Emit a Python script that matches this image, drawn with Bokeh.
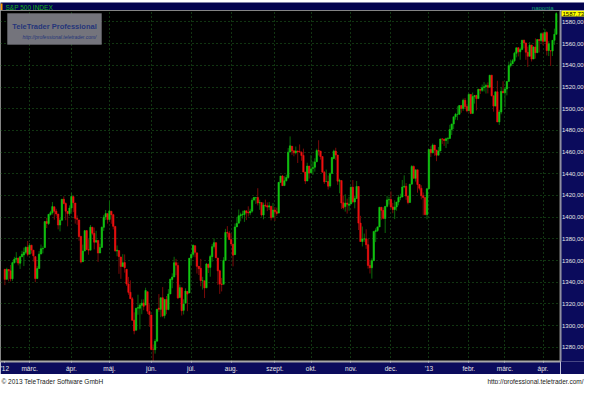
from bokeh.plotting import figure
from bokeh.layouts import column, row
from bokeh.models import FixedTicker, Label, BoxAnnotation, ColumnDataSource, Range1d, Span
from bokeh.embed import file_html
from bokeh.resources import INLINE

# ---------------- data (S&P 500 daily, 10 Feb 2012 .. 10 Apr 2013) ----------------
opens = [1351.95, 1342.64, 1351.77, 1350.50, 1343.23, 1358.04, 1361.22, 1362.21, 1357.53, 1363.46,
         1365.20, 1367.56, 1372.20, 1365.90, 1374.09, 1369.59, 1363.63, 1343.39, 1352.65, 1365.97,
         1370.78, 1371.92, 1395.95, 1394.17, 1402.55, 1404.17, 1409.59, 1405.52, 1402.89, 1392.78,
         1397.11, 1416.55, 1412.52, 1405.39, 1403.31, 1408.47, 1418.98, 1413.09, 1398.79, 1397.45,
         1382.18, 1358.98, 1368.77, 1387.61, 1370.27, 1369.57, 1390.78, 1385.08, 1376.96, 1378.53,
         1366.97, 1372.11, 1390.64, 1400.19, 1403.26, 1397.86, 1405.50, 1402.32, 1391.51, 1368.79,
         1369.16, 1363.20, 1354.58, 1358.11, 1351.93, 1338.36, 1330.78, 1324.82, 1305.05, 1295.73,
         1316.09, 1316.02, 1318.72, 1320.81, 1318.90, 1331.25, 1313.09, 1309.87, 1278.29, 1277.82,
         1285.61, 1316.15, 1314.99, 1325.72, 1309.40, 1324.02, 1314.88, 1329.19, 1342.42, 1344.83,
         1357.98, 1355.43, 1325.92, 1334.90, 1314.09, 1320.71, 1331.52, 1330.12, 1362.33, 1365.75,
         1373.72, 1367.09, 1354.66, 1352.96, 1341.40, 1341.29, 1334.81, 1356.50, 1353.68, 1363.58,
         1373.01, 1376.51, 1362.34, 1350.52, 1338.35, 1338.17, 1360.05, 1385.94, 1385.27, 1379.32,
         1375.13, 1365.45, 1391.04, 1394.46, 1401.23, 1402.26, 1402.58, 1405.87, 1404.36, 1403.89,
         1405.57, 1415.84, 1417.85, 1418.13, 1413.09, 1413.49, 1401.99, 1411.13, 1410.44, 1409.32,
         1410.08, 1400.07, 1406.54, 1404.94, 1403.74, 1432.12, 1437.92, 1429.13, 1433.56, 1436.56,
         1460.07, 1465.42, 1461.19, 1459.50, 1461.05, 1460.34, 1459.76, 1456.94, 1441.60, 1433.36,
         1447.13, 1440.90, 1444.99, 1446.05, 1451.08, 1461.40, 1460.93, 1455.90, 1441.48, 1432.82,
         1432.84, 1428.75, 1440.31, 1454.22, 1460.94, 1457.34, 1433.21, 1433.74, 1413.20, 1409.74,
         1412.97, 1410.99, 1412.20, 1427.59, 1414.02, 1417.26, 1428.27, 1394.53, 1377.55, 1379.86,
         1380.03, 1374.64, 1355.41, 1353.36, 1359.88, 1386.82, 1387.79, 1391.03, 1409.15, 1406.29,
         1398.77, 1409.96, 1415.95, 1416.34, 1409.46, 1407.05, 1409.43, 1413.95, 1418.07, 1418.55,
         1427.84, 1428.48, 1419.45, 1413.54, 1430.47, 1446.79, 1435.81, 1443.67, 1430.15, 1426.66,
         1419.83, 1418.10, 1402.43, 1426.19, 1462.42, 1459.37, 1466.47, 1461.89, 1457.15, 1461.02,
         1472.12, 1472.05, 1470.67, 1472.33, 1472.63, 1480.95, 1485.98, 1492.56, 1494.81, 1494.82,
         1502.96, 1500.18, 1507.84, 1501.96, 1498.11, 1513.17, 1495.71, 1511.29, 1512.12, 1509.39,
         1517.93, 1517.01, 1519.43, 1520.33, 1521.38, 1519.79, 1530.94, 1511.95, 1502.42, 1515.60,
         1487.85, 1496.94, 1515.99, 1514.68, 1518.20, 1525.20, 1539.79, 1541.46, 1544.26, 1551.15,
         1556.22, 1552.48, 1554.52, 1563.21, 1560.70, 1552.10, 1548.34, 1558.71, 1545.90, 1556.89,
         1551.69, 1563.75, 1562.86, 1569.18, 1562.17, 1570.25, 1553.69, 1553.47, 1553.26, 1563.11,
         1568.61]
highs = [1352.00, 1353.35, 1351.77, 1355.87, 1359.02, 1363.40, 1367.76, 1362.70, 1364.24, 1368.92,
         1371.94, 1373.09, 1378.04, 1376.17, 1374.53, 1369.59, 1363.63, 1354.85, 1368.72, 1374.76,
         1373.04, 1396.13, 1399.42, 1402.63, 1405.88, 1414.00, 1409.59, 1407.75, 1402.89, 1399.18,
         1416.58, 1419.15, 1413.65, 1405.39, 1410.89, 1422.38, 1419.00, 1413.09, 1401.60, 1397.45,
         1383.01, 1374.71, 1388.13, 1387.61, 1379.66, 1392.76, 1390.78, 1390.46, 1387.40, 1378.53,
         1375.57, 1391.37, 1402.09, 1406.64, 1403.26, 1415.32, 1405.50, 1403.07, 1391.51, 1373.91,
         1369.16, 1363.73, 1365.88, 1365.66, 1351.93, 1344.94, 1341.78, 1326.36, 1312.24, 1316.39,
         1328.49, 1320.71, 1324.14, 1324.20, 1334.93, 1331.25, 1319.74, 1309.87, 1282.55, 1287.62,
         1315.13, 1329.05, 1325.81, 1335.52, 1324.31, 1327.28, 1333.68, 1343.32, 1348.22, 1363.46,
         1361.57, 1358.27, 1337.82, 1334.90, 1324.24, 1334.40, 1331.52, 1362.17, 1366.35, 1374.81,
         1373.85, 1367.09, 1354.87, 1361.54, 1345.00, 1341.29, 1357.70, 1357.26, 1365.36, 1375.26,
         1380.39, 1376.51, 1362.34, 1351.53, 1343.98, 1363.13, 1389.19, 1391.74, 1387.16, 1385.03,
         1375.13, 1394.16, 1399.63, 1407.14, 1404.14, 1405.95, 1405.98, 1405.87, 1410.03, 1407.73,
         1417.44, 1418.71, 1418.13, 1426.68, 1416.12, 1413.49, 1413.46, 1416.17, 1413.63, 1413.95,
         1410.08, 1413.09, 1409.31, 1408.81, 1432.12, 1437.92, 1438.74, 1437.76, 1439.15, 1463.76,
         1474.51, 1465.63, 1461.47, 1465.15, 1461.23, 1467.07, 1460.72, 1463.24, 1441.60, 1450.20,
         1447.13, 1457.14, 1451.52, 1454.30, 1463.14, 1470.96, 1460.93, 1455.90, 1442.52, 1443.90,
         1438.43, 1441.31, 1455.51, 1462.20, 1464.02, 1457.34, 1435.46, 1433.74, 1420.04, 1421.12,
         1417.09, 1418.76, 1428.35, 1434.27, 1419.90, 1433.38, 1428.27, 1401.23, 1391.39, 1384.87,
         1388.81, 1380.13, 1360.62, 1362.03, 1386.89, 1389.77, 1391.25, 1409.16, 1409.15, 1409.01,
         1410.31, 1419.70, 1418.86, 1423.73, 1413.14, 1415.56, 1413.95, 1420.34, 1421.64, 1434.27,
         1438.59, 1431.36, 1419.45, 1430.67, 1448.00, 1447.75, 1443.70, 1443.67, 1430.15, 1429.42,
         1422.80, 1418.10, 1426.74, 1462.43, 1465.47, 1467.94, 1466.47, 1461.89, 1464.73, 1472.30,
         1472.75, 1472.05, 1473.31, 1473.96, 1485.16, 1485.98, 1492.56, 1496.13, 1502.27, 1503.26,
         1503.23, 1509.35, 1509.94, 1504.19, 1514.41, 1513.17, 1514.96, 1512.53, 1512.90, 1518.31,
         1518.31, 1522.29, 1524.69, 1523.14, 1524.24, 1530.94, 1530.94, 1511.95, 1515.64, 1525.84,
         1498.99, 1520.08, 1525.34, 1519.99, 1525.27, 1543.47, 1545.25, 1545.78, 1552.48, 1556.27,
         1556.77, 1556.39, 1563.32, 1563.62, 1560.70, 1557.25, 1561.56, 1558.71, 1557.74, 1564.91,
         1563.95, 1564.07, 1570.28, 1570.57, 1573.66, 1571.47, 1562.29, 1553.47, 1563.07, 1573.89,
         1589.07]
lows = [1337.35, 1342.64, 1340.83, 1340.80, 1341.22, 1357.24, 1358.11, 1355.53, 1352.28, 1363.46,
        1354.92, 1365.97, 1363.81, 1365.90, 1366.42, 1359.13, 1340.03, 1343.39, 1352.65, 1365.97,
        1366.69, 1371.92, 1389.97, 1392.78, 1401.47, 1402.43, 1397.68, 1400.64, 1388.73, 1386.87,
        1397.11, 1411.95, 1397.20, 1391.56, 1401.42, 1404.46, 1404.62, 1394.09, 1392.92, 1378.24,
        1357.38, 1358.98, 1368.77, 1369.85, 1365.38, 1369.57, 1383.29, 1370.30, 1376.96, 1358.79,
        1366.82, 1372.11, 1387.28, 1397.31, 1394.00, 1395.73, 1393.92, 1388.71, 1367.96, 1363.94,
        1347.75, 1343.13, 1354.58, 1348.89, 1336.61, 1328.41, 1324.79, 1304.86, 1291.98, 1295.73,
        1310.04, 1296.53, 1310.50, 1314.23, 1318.90, 1310.76, 1298.90, 1277.25, 1266.74, 1274.16,
        1285.61, 1312.68, 1307.77, 1307.73, 1306.62, 1310.51, 1314.14, 1329.19, 1334.46, 1344.83,
        1346.45, 1324.41, 1325.92, 1309.27, 1310.30, 1320.71, 1313.29, 1330.12, 1355.70, 1363.53,
        1363.02, 1348.03, 1346.65, 1336.27, 1333.25, 1325.41, 1334.81, 1348.51, 1345.07, 1358.96,
        1371.21, 1362.19, 1337.56, 1329.24, 1331.50, 1338.17, 1360.05, 1381.37, 1379.17, 1373.35,
        1354.65, 1365.45, 1391.04, 1394.46, 1396.13, 1398.80, 1395.62, 1397.32, 1400.60, 1401.83,
        1404.15, 1414.67, 1412.12, 1410.86, 1406.78, 1400.50, 1398.04, 1409.11, 1405.59, 1406.57,
        1397.01, 1398.96, 1396.56, 1401.25, 1403.74, 1431.45, 1428.98, 1429.13, 1432.99, 1435.34,
        1460.07, 1457.55, 1456.13, 1457.88, 1449.98, 1459.51, 1452.06, 1441.59, 1430.53, 1433.36,
        1435.60, 1440.90, 1439.01, 1441.99, 1451.08, 1456.89, 1453.10, 1441.18, 1430.64, 1432.82,
        1425.53, 1427.24, 1440.31, 1453.35, 1452.63, 1429.85, 1422.06, 1407.56, 1407.10, 1405.14,
        1403.28, 1405.95, 1412.20, 1412.91, 1408.13, 1417.26, 1388.14, 1377.51, 1373.03, 1377.19,
        1370.78, 1352.50, 1348.05, 1343.35, 1359.88, 1377.04, 1386.39, 1391.03, 1397.68, 1398.03,
        1385.43, 1409.04, 1411.63, 1408.46, 1403.65, 1398.23, 1405.93, 1410.90, 1415.64, 1418.55,
        1426.76, 1416.00, 1411.88, 1413.54, 1430.47, 1435.80, 1432.82, 1422.58, 1424.66, 1416.43,
        1401.80, 1401.58, 1398.11, 1426.19, 1455.53, 1458.99, 1456.62, 1451.64, 1457.15, 1461.02,
        1467.58, 1465.69, 1463.76, 1467.60, 1472.63, 1475.81, 1481.16, 1489.90, 1489.46, 1494.82,
        1496.33, 1498.09, 1500.11, 1496.76, 1498.11, 1495.02, 1495.71, 1504.71, 1498.49, 1509.39,
        1513.61, 1515.61, 1515.93, 1514.02, 1514.14, 1519.79, 1511.41, 1497.29, 1502.42, 1487.85,
        1485.01, 1494.88, 1514.46, 1501.48, 1512.29, 1525.20, 1538.11, 1541.46, 1542.94, 1547.36,
        1548.24, 1545.15, 1554.52, 1555.74, 1545.13, 1538.57, 1548.34, 1543.55, 1545.90, 1546.22,
        1551.69, 1551.90, 1561.08, 1558.47, 1562.17, 1549.07, 1548.59, 1539.50, 1548.63, 1558.96,
        1568.61]
closes = [1342.64, 1351.77, 1350.50, 1343.23, 1358.04, 1361.23, 1362.21, 1357.66, 1363.46, 1365.74,
          1367.59, 1372.18, 1365.68, 1374.09, 1369.63, 1364.33, 1343.36, 1352.63, 1365.91, 1370.87,
          1371.09, 1395.95, 1394.28, 1402.60, 1404.17, 1409.75, 1405.52, 1402.89, 1392.78, 1397.11,
          1416.51, 1412.52, 1405.54, 1403.28, 1408.47, 1419.04, 1413.38, 1398.96, 1398.08, 1382.20,
          1358.59, 1368.71, 1387.57, 1370.26, 1369.57, 1390.78, 1385.14, 1376.92, 1378.53, 1366.94,
          1371.97, 1390.69, 1399.98, 1403.36, 1397.91, 1405.82, 1402.31, 1391.57, 1369.10, 1369.58,
          1363.72, 1354.58, 1357.99, 1353.39, 1338.35, 1330.66, 1324.80, 1304.86, 1295.22, 1315.99,
          1316.63, 1318.86, 1320.68, 1317.82, 1332.42, 1313.32, 1310.33, 1278.04, 1278.18, 1285.50,
          1315.13, 1314.99, 1325.66, 1308.93, 1324.18, 1314.88, 1329.10, 1342.84, 1344.78, 1357.98,
          1355.69, 1325.51, 1335.02, 1313.72, 1319.99, 1331.85, 1329.04, 1362.16, 1365.51, 1374.02,
          1367.58, 1354.68, 1352.46, 1341.47, 1341.45, 1334.76, 1356.78, 1353.64, 1363.67, 1372.78,
          1376.51, 1362.66, 1350.52, 1338.31, 1337.89, 1360.02, 1385.97, 1385.30, 1379.32, 1375.32,
          1365.00, 1390.99, 1394.23, 1401.35, 1402.22, 1402.80, 1405.87, 1404.11, 1403.93, 1405.53,
          1415.51, 1418.16, 1418.13, 1413.17, 1413.49, 1402.08, 1411.13, 1410.44, 1409.30, 1410.49,
          1399.48, 1406.58, 1404.94, 1403.44, 1432.12, 1437.92, 1429.08, 1433.56, 1436.56, 1459.99,
          1465.77, 1461.19, 1459.32, 1461.05, 1460.26, 1460.15, 1456.89, 1441.59, 1433.32, 1447.15,
          1440.67, 1444.49, 1445.75, 1450.99, 1461.40, 1460.93, 1455.88, 1441.48, 1432.56, 1432.84,
          1428.59, 1440.13, 1454.92, 1460.91, 1457.34, 1433.19, 1433.82, 1413.11, 1408.75, 1412.97,
          1411.94, 1412.16, 1427.59, 1414.20, 1417.26, 1428.39, 1394.53, 1377.51, 1379.85, 1380.03,
          1374.53, 1355.49, 1353.33, 1359.88, 1386.89, 1387.81, 1391.03, 1409.15, 1406.29, 1398.94,
          1409.93, 1415.95, 1416.18, 1409.46, 1407.05, 1409.28, 1413.94, 1418.07, 1418.55, 1427.84,
          1428.48, 1419.45, 1413.58, 1430.36, 1446.79, 1435.81, 1443.69, 1430.15, 1426.66, 1419.83,
          1418.10, 1402.43, 1426.19, 1462.42, 1459.37, 1466.47, 1461.89, 1457.15, 1461.02, 1472.12,
          1472.05, 1470.68, 1472.34, 1472.63, 1480.94, 1485.98, 1492.56, 1494.81, 1494.82, 1502.96,
          1500.18, 1507.84, 1501.96, 1498.11, 1513.17, 1495.71, 1511.29, 1512.12, 1509.39, 1517.93,
          1517.01, 1519.43, 1520.33, 1521.38, 1519.79, 1530.94, 1511.95, 1502.42, 1515.60, 1487.85,
          1496.94, 1515.99, 1514.68, 1518.20, 1525.20, 1539.79, 1541.46, 1544.26, 1551.18, 1556.22,
          1552.48, 1554.52, 1563.23, 1560.70, 1552.10, 1548.34, 1558.71, 1545.80, 1556.89, 1551.69,
          1563.77, 1562.85, 1569.19, 1562.17, 1570.25, 1553.69, 1559.98, 1553.28, 1563.07, 1568.61,
          1587.73]

# month starts (trading-day index) and their labels
month_idx = [0, 13, 35, 55, 77, 98, 119, 142, 161, 182, 203, 223, 244, 263, 283]
month_labels = ["'12", "márc.", "ápr.", "máj.", "jún.", "júl.", "aug.", "szept.",
                "okt.", "nov.", "dec.", "'13", "febr.", "márc.", "ápr."]

y_ticks = [1280, 1300, 1320, 1340, 1360, 1380, 1400, 1420, 1440, 1460,
           1480, 1500, 1520, 1540, 1560, 1580]
y_tick_labels = ["1280,00", "1300,00", "1320,00", "1340,00", "1360,00", "1380,00",
                 "1400,00", "1420,00", "1440,00", "1460,00", "1480,00", "1500,00",
                 "1520,00", "1540,00", "1560,00", "1580,00"]

last_price_label = "1587,73"
title_text = "S&P 500 INDEX"
period_text = "naponta"
brand_text = "TeleTrader Professional"
brand_url = "http://professional.teletrader.com/"
copyright_text = "© 2013 TeleTrader Software GmbH"
footer_url = "http://professional.teletrader.com/"

# ---------------- styling / layout ----------------
FONT = "'Liberation Sans', Arial, sans-serif"
NAVY = "#0b0b5c"
UP, DOWN = "#12c812", "#f01010"
UP_WICK, DOWN_WICK = "#0a6a0a", "#7a0a0a"
GRID = "#236b23"

TOTAL_W = 584
HEAD_H, FOOT_H = 10, 10
PANEL_W = 24
MAIN_W = TOTAL_W - PANEL_W
MAIN_H = 364
B_BOTTOM = 12
FW, FH = MAIN_W, MAIN_H - B_BOTTOM

X0, X1 = -2.3, 292.2
Y0, Y1 = 1266.9, 1590.6

def dx(px):  # frame pixels from left -> data x
    return X0 + px * (X1 - X0) / FW

def dy(px):  # frame pixels from top -> data y
    return Y1 - px * (Y1 - Y0) / FH

n = len(closes)
xs = list(range(n))
up = [c >= o for o, c in zip(opens, closes)]
src = ColumnDataSource(dict(
    x=xs, open=opens, close=closes, high=highs, low=lows,
    top=[max(o, c) for o, c in zip(opens, closes)],
    bottom=[min(o, c) for o, c in zip(opens, closes)],
    color=[UP if u else DOWN for u in up],
    wick=[UP_WICK if u else DOWN_WICK for u in up],
))

yr = Range1d(Y0, Y1)

# ---------- header ----------
hdr = figure(width=TOTAL_W, height=HEAD_H, output_backend="svg", toolbar_location=None,
             x_range=Range1d(0, TOTAL_W), y_range=Range1d(0, HEAD_H), min_border=0)
hdr.axis.visible = False
hdr.grid.visible = False
hdr.outline_line_color = None
hdr.background_fill_color = "#04044e"
hdr.border_fill_color = "#04044e"
hdr.add_layout(BoxAnnotation(left=0, right=2, bottom=1.5, top=9,
                             fill_color="#ff9a00", fill_alpha=1, line_color=None))
hdr.add_layout(Label(x=5, y=HEAD_H / 2, text=title_text, text_align="left",
                     text_baseline="middle", text_font=FONT, text_font_size="6.5px",
                     text_color="#14b414"))
hdr.add_layout(Label(x=553, y=HEAD_H / 2, text=period_text, text_align="right",
                     text_baseline="middle", text_font=FONT, text_font_size="6px",
                     text_color="#14a870"))

# ---------- main chart ----------
p = figure(width=MAIN_W, height=MAIN_H, output_backend="svg", toolbar_location=None,
           x_range=Range1d(X0, X1), y_range=yr, y_axis_location=None,
           min_border_left=0, min_border_right=0, min_border_top=0,
           min_border_bottom=B_BOTTOM)
p.background_fill_color = "black"
p.border_fill_color = NAVY
p.outline_line_color = "#8a8a8a"
p.outline_line_dash = "1 1"

p.segment(x0="x", y0="low", x1="x", y1="high", line_color="wick", line_width=1, source=src)
p.vbar(x="x", width=0.72, top="top", bottom="bottom", fill_color="color",
       line_color="color", line_width=0.6, source=src)

p.ygrid.ticker = FixedTicker(ticks=y_ticks)
p.xgrid.ticker = FixedTicker(ticks=month_idx[1:])
for g in (p.xgrid, p.ygrid):
    g.grid_line_color = GRID
    g.grid_line_dash = "1 3"
    g.grid_line_width = 1

xa = p.xaxis[0]
xa.ticker = FixedTicker(ticks=month_idx)
xa.major_label_overrides = {t: s for t, s in zip(month_idx, month_labels)}
xa.major_label_text_font = FONT
xa.major_label_text_font_size = "6.5px"
xa.major_label_text_color = "#e6e6e6"
xa.major_label_standoff = 2
xa.major_tick_line_color = "#d0d0d0"
xa.major_tick_in = 0
xa.major_tick_out = 1
xa.minor_tick_line_color = None
xa.axis_line_color = "#a8a8a8"
xa.axis_line_width = 2

# watermark
p.add_layout(BoxAnnotation(left=dx(7), right=dx(101), top=dy(3), bottom=dy(34),
                           fill_color="#74747c", fill_alpha=1.0, line_color="#8a8a92",
                           line_width=1))
p.add_layout(Label(x=dx(54), y=dy(16), text=brand_text, text_align="center",
                   text_baseline="middle", text_font=FONT, text_font_style="bold",
                   text_font_size="7.5px", text_color="#24347a"))
p.add_layout(Label(x=dx(59), y=dy(26.5), text=brand_url, text_align="center",
                   text_baseline="middle", text_font=FONT, text_font_style="italic",
                   text_font_size="5px", text_color="#24347a"))

# ---------- right price scale ----------
rp = figure(width=PANEL_W, height=MAIN_H, output_backend="svg", toolbar_location=None,
            x_range=Range1d(0, 1), y_range=yr, x_axis_location=None, y_axis_location=None,
            min_border_left=0, min_border_right=0, min_border_top=0,
            min_border_bottom=B_BOTTOM)
rp.grid.visible = False
rp.outline_line_color = None
rp.background_fill_color = NAVY
rp.border_fill_color = NAVY
rp.add_layout(Span(location=0, dimension="height", line_color="#9a9a9a", line_width=2))
for t, s in zip(y_ticks, y_tick_labels):
    rp.add_layout(Label(x=0, y=t, x_offset=1.5, text=s, text_align="left",
                        text_baseline="middle", text_font=FONT, text_font_size="6px",
                        text_color="#e6e6e6"))
rp.add_layout(Label(x=0, y=Y1, x_offset=1, text=last_price_label, text_align="left",
                    text_baseline="top", text_font=FONT, text_font_size="6px",
                    text_color="black", background_fill_color="#ffff00", padding=1))

# ---------- footer ----------
f = figure(width=TOTAL_W, height=FOOT_H, output_backend="svg", toolbar_location=None,
           x_range=Range1d(0, 1), y_range=Range1d(0, 1), min_border=0)
f.axis.visible = False
f.grid.visible = False
f.outline_line_color = None
f.background_fill_color = "white"
f.border_fill_color = "white"
f.add_layout(Label(x=0, y=0.5, x_offset=1, text=copyright_text, text_align="left",
                   text_baseline="middle", text_font=FONT, text_font_size="6.5px",
                   text_color="#202020"))
f.add_layout(Label(x=1, y=0.5, x_offset=-1, text=footer_url, text_align="right",
                   text_baseline="middle", text_font=FONT, text_font_size="6.5px",
                   text_color="#202020"))

layout = column(hdr, row(p, rp, spacing=0), f, spacing=0)
open("out.html", "w").write(file_html(layout, INLINE))
